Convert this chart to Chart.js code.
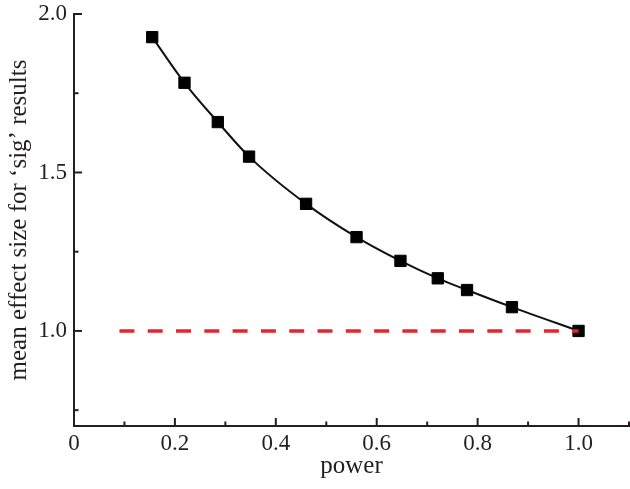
<!DOCTYPE html>
<html><head><meta charset="utf-8">
<script src="https://cdn.jsdelivr.net/npm/chart.js@4/dist/chart.umd.min.js"></script>
<style>html,body{margin:0;padding:0;background:#fff}#wrap{width:630px;height:489px;position:relative}</style>
</head><body><div id="wrap"><canvas id="c"></canvas></div>
<script>
const power = [0.155, 0.219, 0.285, 0.347, 0.460, 0.560, 0.647, 0.721, 0.779, 0.868, 1.0];
const meanEffect = [1.927, 1.783, 1.659, 1.550, 1.401, 1.296, 1.221, 1.166, 1.129, 1.075, 1.0];
const refX = [0.09, 1.0];
const refY = [1.0, 1.0];
const xTickValues = [0, 0.2, 0.4, 0.6, 0.8, 1.0];
const xTickLabels = ['0', '0.2', '0.4', '0.6', '0.8', '1.0'];
const xMinorTicks = [0.1, 0.3, 0.5, 0.7, 0.9, 1.1];
const yTickValues = [1.0, 1.5, 2.0];
const yTickLabels = ['1.0', '1.5', '2.0'];
const yMinorTicks = [0.75, 1.25, 1.75];

const axisColor = '#231f20';
const fontFam = "'Liberation Serif', 'Times New Roman', serif";

// keep the marker size from shrinking the plot area (no clipping needed)
Chart.LineController.prototype.getMaxOverflow = function () { return false; };

const inTicks = {
  id: 'inTicks',
  afterDraw(chart) {
    const {ctx, scales: {x, y}, chartArea: a} = chart;
    ctx.save();
    ctx.strokeStyle = axisColor;
    ctx.lineWidth = 2;
    const drawX = (vals, len) => vals.forEach(v => {
      const px = x.getPixelForValue(v);
      ctx.beginPath(); ctx.moveTo(px, a.bottom); ctx.lineTo(px, a.bottom - len); ctx.stroke();
    });
    const drawY = (vals, len) => vals.forEach(v => {
      const py = y.getPixelForValue(v);
      ctx.beginPath(); ctx.moveTo(a.left, py); ctx.lineTo(a.left + len, py); ctx.stroke();
    });
    drawX(xTickValues, 8); drawX(xMinorTicks, 4.5);
    drawY(yTickValues, 8); drawY(yMinorTicks, 4.5);
    ctx.restore();
  }
};

new Chart(document.getElementById('c'), {
  type: 'line',
  data: {
    datasets: [
      {
        label: 'reference',
        data: refX.map((v, i) => ({x: v, y: refY[i]})),
        borderColor: '#e3262d',
        borderWidth: 3.5,
        borderDash: [15, 13.3],
        pointRadius: 0,
        fill: false
      },
      {
        label: 'mean effect size',
        data: power.map((v, i) => ({x: v, y: meanEffect[i]})),
        borderColor: '#111',
        borderWidth: 2,
        cubicInterpolationMode: 'monotone',
        pointStyle: 'rect',
        pointRadius: 8,
        pointBackgroundColor: '#000',
        pointBorderColor: '#000',
        pointBorderWidth: 1,
        fill: false
      }
    ]
  },
  options: {
    responsive: true,
    maintainAspectRatio: false,
    animation: false,
    layout: {padding: {top: 14, right: 1, left: 0, bottom: 0}},
    plugins: {legend: {display: false}, tooltip: {enabled: false}},
    scales: {
      x: {
        type: 'linear',
        min: 0, max: 1.1,
        afterBuildTicks: s => { s.ticks = xTickValues.map(v => ({value: v})); },
        afterFit: s => { s.height = 63; s.paddingLeft = 0; s.paddingRight = 0; },
        grid: {display: true, drawOnChartArea: false, drawTicks: false},
        border: {display: true, color: axisColor, width: 2},
        ticks: {
          autoSkip: false, maxRotation: 0, padding: 4,
          color: axisColor,
          font: {family: fontFam, size: 23},
          callback: (v, i) => xTickLabels[i]
        },
        title: {
          display: true, text: 'power', color: axisColor,
          font: {family: fontFam, size: 25},
          padding: {top: 0, bottom: 8}
        }
      },
      y: {
        type: 'linear',
        min: 0.7, max: 2.0,
        afterBuildTicks: s => { s.ticks = yTickValues.map(v => ({value: v})); },
        afterFit: s => { s.width = 74; s.paddingTop = 0; s.paddingBottom = 0; },
        grid: {display: true, drawOnChartArea: false, drawTicks: false},
        border: {display: true, color: axisColor, width: 2},
        ticks: {
          padding: 7,
          color: axisColor,
          font: {family: fontFam, size: 23},
          callback: (v, i) => yTickLabels[i]
        },
        title: {
          display: true, text: 'mean effect size for ‘sig’ results', color: axisColor,
          font: {family: fontFam, size: 25},
          padding: {top: 4, bottom: 0}
        }
      }
    }
  },
  plugins: [inTicks]
});
</script>
</body></html>
